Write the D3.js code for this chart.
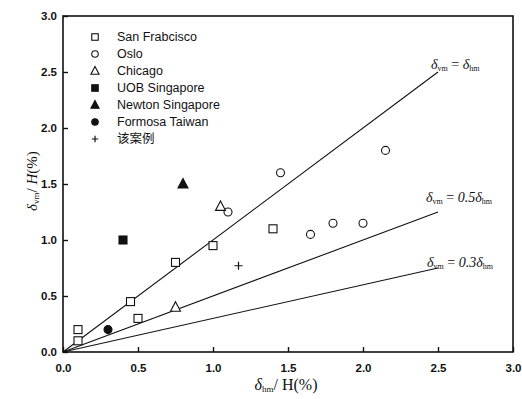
<!DOCTYPE html>
<html>
<head>
<meta charset="utf-8">
<script src="https://cdn.jsdelivr.net/npm/d3@7"></script>
<style>
  html, body { margin: 0; padding: 0; background: #fff; }
  svg { display: block; }
</style>
</head>
<body>
<svg id="chart" width="522" height="399"></svg>
<script>
// Series: horizontal vs vertical wall deflection ratios (%)
const sanFrancisco = [[0.1, 0.2], [0.1, 0.1], [0.45, 0.45], [0.5, 0.3], [0.75, 0.8], [1.0, 0.95], [1.4, 1.1]];
const oslo = [[1.1, 1.25], [1.45, 1.6], [1.65, 1.05], [1.8, 1.15], [2.0, 1.15], [2.15, 1.8]];
const chicago = [[1.05, 1.3], [0.75, 0.4]];
const uobSingapore = [[0.4, 1.0]];
const newtonSingapore = [[0.8, 1.5]];
const formosaTaiwan = [[0.3, 0.2]];
const thisCase = [[1.17, 0.77]];

const seriesNames = ["San Frabcisco", "Oslo", "Chicago", "UOB Singapore", "Newton Singapore", "Formosa Taiwan", "该案例"];
const seriesData = [sanFrancisco, oslo, chicago, uobSingapore, newtonSingapore, formosaTaiwan, thisCase];
const seriesShapes = ["square", "circle", "triangle", "square", "triangle", "circle", "plus"];
const seriesFilled = [false, false, false, true, true, true, false];

// Reference lines δvm = k·δhm, drawn for δhm in [0, 2.5]
const ratioK = [1.0, 0.5, 0.3];
const ratioXEnd = 2.5;

const xTicks = [0, 0.5, 1.0, 1.5, 2.0, 2.5, 3.0];
const yTicks = [0, 0.5, 1.0, 1.5, 2.0, 2.5, 3.0];

const svg = d3.select("#chart");

const x = d3.scaleLinear().domain([0, 3]).range([63, 513]);
const y = d3.scaleLinear().domain([0, 3]).range([352, 16]);

const ink = "#111";

// Frame
svg.append("rect")
  .attr("x", x(0)).attr("y", y(3))
  .attr("width", x(3) - x(0)).attr("height", y(0) - y(3))
  .attr("fill", "none").attr("stroke", ink).attr("stroke-width", 1.6);

// Axes with inward ticks
const xAxis = svg.append("g")
  .attr("transform", `translate(0,${y(0)})`)
  .call(d3.axisBottom(x).tickValues(xTicks).tickFormat(d3.format(".1f"))
    .tickSizeInner(-5).tickSizeOuter(0).tickPadding(10));
const yAxis = svg.append("g")
  .attr("transform", `translate(${x(0)},0)`)
  .call(d3.axisLeft(y).tickValues(yTicks).tickFormat(d3.format(".1f"))
    .tickSizeInner(-5).tickSizeOuter(0).tickPadding(10));

[xAxis, yAxis].forEach(g => {
  g.select(".domain").remove();
  g.selectAll(".tick line").attr("stroke", ink).attr("stroke-width", 1.4);
  g.selectAll(".tick text")
    .attr("fill", ink)
    .style("font-family", "'Liberation Sans', Arial, sans-serif")
    .style("font-size", "11.5px")
    .style("font-weight", "bold");
});
xAxis.selectAll(".tick text").attr("dy", "0.9em");
yAxis.selectAll(".tick text").attr("x", -6);

// Reference lines
const lineGen = d3.line().x(d => x(d[0])).y(d => y(d[1]));
svg.append("g").selectAll("path")
  .data(ratioK)
  .join("path")
  .attr("d", k => lineGen([[0, 0], [ratioXEnd, k * ratioXEnd]]))
  .attr("fill", "none").attr("stroke", ink).attr("stroke-width", 1.1);

// Line labels
const serif = "'Liberation Serif', 'Times New Roman', serif";
function ratioLabel(k, xPos, yPos) {
  const t = svg.append("text")
    .attr("x", xPos).attr("y", yPos)
    .attr("fill", ink)
    .style("font-family", serif)
    .style("font-size", "14px");
  t.append("tspan").style("font-style", "italic").text("δ");
  t.append("tspan").style("font-size", "8px").attr("dy", 2).text("vm");
  t.append("tspan").attr("dy", -2).text(" = ");
  if (k !== 1) t.append("tspan").style("font-style", "italic").text(String(k));
  t.append("tspan").style("font-style", "italic").text("δ");
  t.append("tspan").style("font-size", "8px").attr("dy", 2).text("hm");
}
ratioLabel(1.0, 431, 69);
ratioLabel(0.5, 426, 202);
ratioLabel(0.3, 427, 267);

// Marker drawing
function drawMarker(g, shape, filled, size) {
  const fill = filled ? ink : "#fff";
  if (shape === "square") {
    g.append("rect").attr("x", -size / 2).attr("y", -size / 2)
      .attr("width", size).attr("height", size)
      .attr("fill", fill).attr("stroke", ink).attr("stroke-width", 1.1);
  } else if (shape === "circle") {
    g.append("circle").attr("r", size / 2)
      .attr("fill", fill).attr("stroke", ink).attr("stroke-width", 1.1);
  } else if (shape === "triangle") {
    const s = size * 1.25;
    g.append("path")
      .attr("d", `M0,${-s * 0.55}L${s / 2},${s * 0.4}L${-s / 2},${s * 0.4}Z`)
      .attr("fill", fill).attr("stroke", ink).attr("stroke-width", 1.1);
  } else if (shape === "plus") {
    g.append("path")
      .attr("d", `M${-size / 2},0H${size / 2}M0,${-size / 2}V${size / 2}`)
      .attr("stroke", ink).attr("stroke-width", 1.2);
  }
}

// Data points
seriesData.forEach((pts, i) => {
  svg.append("g").selectAll("g")
    .data(pts)
    .join("g")
    .attr("transform", d => `translate(${x(d[0])},${y(d[1])})`)
    .each(function () { drawMarker(d3.select(this), seriesShapes[i], seriesFilled[i], 8); });
});

// Legend
const legend = svg.append("g");
seriesNames.forEach((name, i) => {
  const ly = 37 + i * 17;
  const mg = legend.append("g").attr("transform", `translate(95,${ly})`);
  drawMarker(mg, seriesShapes[i], seriesFilled[i], 6.5);
  legend.append("text")
    .attr("x", 117).attr("y", ly).attr("dy", "0.35em")
    .attr("fill", ink)
    .style("font-family", i === 6 ? "'Noto Sans CJK SC', sans-serif" : "'Liberation Sans', Arial, sans-serif")
    .style("font-size", "12.5px")
    .text(name);
});

// Axis titles
const xt = svg.append("text")
  .attr("x", 286).attr("y", 390).attr("text-anchor", "middle")
  .attr("fill", ink).style("font-family", serif).style("font-size", "16px");
xt.append("tspan").style("font-style", "italic").text("δ");
xt.append("tspan").style("font-size", "9px").attr("dy", 2).text("hm");
xt.append("tspan").attr("dy", -2).text("/ H(%)");

const yt = svg.append("text")
  .attr("transform", "translate(37,181) rotate(-90)")
  .attr("text-anchor", "middle")
  .attr("fill", ink).style("font-family", serif).style("font-size", "15px");
yt.append("tspan").style("font-style", "italic").text("δ");
yt.append("tspan").style("font-size", "9px").attr("dy", 2).text("vm");
yt.append("tspan").attr("dy", -2).text("/ ");
yt.append("tspan").style("font-style", "italic").text("H");
yt.append("tspan").text("(%)");
</script>
</body>
</html>
